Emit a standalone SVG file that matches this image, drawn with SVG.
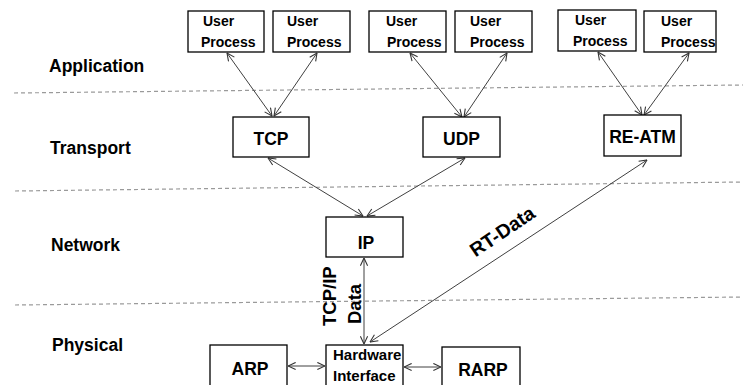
<svg xmlns="http://www.w3.org/2000/svg" width="743" height="385" viewBox="0 0 743 385">
<defs>
<marker id="ah" viewBox="0 0 10 10" refX="9.5" refY="5" markerWidth="9" markerHeight="9" markerUnits="userSpaceOnUse" orient="auto-start-reverse">
<path d="M1,1 L9.5,5 L1,9" fill="none" stroke="#333" stroke-width="1.2"/>
</marker>
</defs>
<style>
text{font-family:"Liberation Sans",Arial,sans-serif;font-weight:bold;fill:#000}
.box{fill:#fff;stroke:#000;stroke-width:1.3}
.up{font-size:14px}
.lay{font-size:17.5px}
.big{font-size:17.5px;text-anchor:middle}
.hw{font-size:15px}
.dash{stroke:#9a9a9a;stroke-width:1.2;stroke-dasharray:4 3;fill:none}
.conn line{stroke:#404040;stroke-width:1;marker-start:url(#ah);marker-end:url(#ah)}
</style>
<rect width="743" height="385" fill="#fff"/>
<g id="layers">
<line class="dash" x1="14" y1="93" x2="743" y2="85"/>
<line class="dash" x1="15" y1="191" x2="743" y2="182"/>
<line class="dash" x1="15" y1="305" x2="743" y2="297"/>
<text class="lay" x="49" y="72">Application</text>
<text class="lay" x="50" y="154">Transport</text>
<text class="lay" x="51" y="251">Network</text>
<text class="lay" x="52" y="351">Physical</text>
</g>
<g class="conn" id="connectors">
<line x1="227" y1="53" x2="272" y2="116"/>
<line x1="317" y1="53" x2="274" y2="116"/>
<line x1="410" y1="53" x2="462" y2="117"/>
<line x1="507" y1="53" x2="464" y2="117"/>
<line x1="598" y1="52" x2="642" y2="115"/>
<line x1="689" y1="53" x2="644" y2="115"/>
<line x1="268" y1="158" x2="363" y2="216"/>
<line x1="465" y1="158" x2="367" y2="216"/>
<line x1="364" y1="258" x2="364" y2="344"/>
<line x1="370" y1="342" x2="647" y2="160"/>
<line x1="288" y1="366" x2="325" y2="366"/>
<line x1="404" y1="367" x2="441" y2="367"/>
<text x="336" y="326" font-size="18.5" transform="rotate(-90 336 326)">TCP/IP</text>
<text x="361" y="324" font-size="18.5" transform="rotate(-90 361 324)">Data</text>
<text x="506" y="237" font-size="19.5" text-anchor="middle" transform="rotate(-34 506 237)">RT-Data</text>
</g>
<g id="up1"><rect class="box" x="188" y="11" width="76" height="41"/><text class="up" x="203" y="26">User</text><text class="up" x="201" y="47">Process</text></g>
<g id="up2"><rect class="box" x="273" y="11" width="77" height="41"/><text class="up" x="287" y="26">User</text><text class="up" x="287" y="47">Process</text></g>
<g id="up3"><rect class="box" x="369" y="11" width="77" height="41"/><text class="up" x="386" y="26">User</text><text class="up" x="387" y="47">Process</text></g>
<g id="up4"><rect class="box" x="455" y="11" width="77" height="41"/><text class="up" x="470" y="26">User</text><text class="up" x="470" y="47">Process</text></g>
<g id="up5"><rect class="box" x="558" y="10" width="78" height="41"/><text class="up" x="575" y="25">User</text><text class="up" x="573" y="46">Process</text></g>
<g id="up6"><rect class="box" x="644" y="11" width="72" height="41"/><text class="up" x="661" y="26">User</text><text class="up" x="661" y="47">Process</text></g>
<g id="tcp"><rect class="box" x="233" y="117" width="76" height="40"/><text class="big" x="271" y="145">TCP</text></g>
<g id="udp"><rect class="box" x="423" y="117" width="77" height="40"/><text class="big" x="461.5" y="145">UDP</text></g>
<g id="reatm"><rect class="box" x="604" y="115" width="77" height="41"/><text class="big" x="642.5" y="143">RE-ATM</text></g>
<g id="ip"><rect class="box" x="326" y="217" width="77" height="40"/><text class="big" x="366" y="249">IP</text></g>
<g id="hw"><rect class="box" x="326" y="345" width="77" height="45"/><text class="hw" x="333" y="360">Hardware</text><text class="hw" x="333" y="381">Interface</text></g>
<g id="arp"><rect class="box" x="210" y="345" width="77" height="45"/><text class="big" x="250" y="375">ARP</text></g>
<g id="rarp"><rect class="box" x="442" y="347" width="78" height="43"/><text class="big" x="483" y="376">RARP</text></g>
</svg>
